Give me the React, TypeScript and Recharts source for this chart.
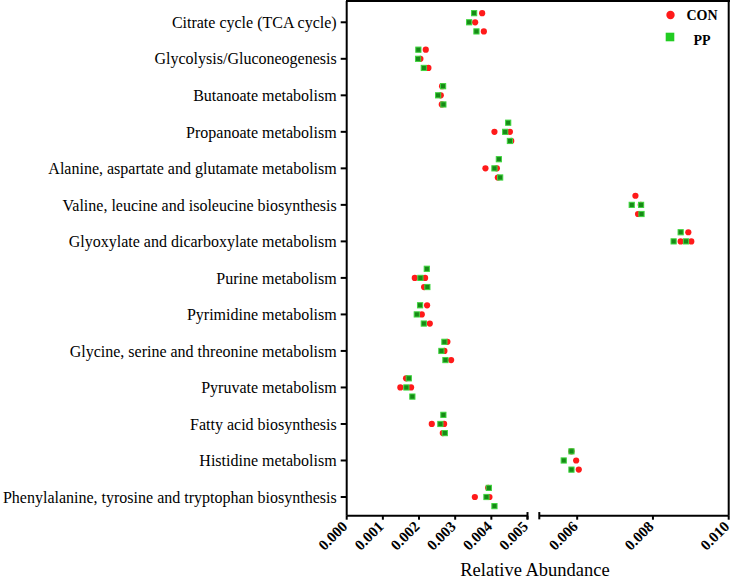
import { ScatterChart, Scatter, XAxis, YAxis, ReferenceLine, Legend } from 'recharts';

const categories = [
  'Citrate cycle (TCA cycle)',
  'Glycolysis/Gluconeogenesis',
  'Butanoate metabolism',
  'Propanoate metabolism',
  'Alanine, aspartate and glutamate metabolism',
  'Valine, leucine and isoleucine biosynthesis',
  'Glyoxylate and dicarboxylate metabolism',
  'Purine metabolism',
  'Pyrimidine metabolism',
  'Glycine, serine and threonine metabolism',
  'Pyruvate metabolism',
  'Fatty acid biosynthesis',
  'Histidine metabolism',
  'Phenylalanine, tyrosine and tryptophan biosynthesis',
];

// three replicates per pathway
const conValues = [
  [0.003746, 0.003552, 0.003793],
  [0.002187, 0.002038, 0.002259],
  [0.002638, 0.002602, 0.00263],
  [0.004086, 0.004513, 0.00455],
  [0.003837, 0.004153, 0.00418],
  [0.007538, 0.007679, 0.007607],
  [0.008934, 0.008732, 0.009013],
  [0.001883, 0.002168, 0.00214],
  [0.002223, 0.002076, 0.002298],
  [0.002785, 0.002702, 0.002888],
  [0.001642, 0.001484, 0.00178],
  [0.002353, 0.002694, 0.002658],
  [0.00585, 0.005973, 0.006042],
  [0.003912, 0.003544, 0.003948],
];
// vertical jitter row: -1 above, 0 on, 1 below the category line
const conRows = [
  [-1, 0, 1], [-1, 0, 1], [-1, 0, 1], [0, 0, 1], [0, 0, 1], [-1, 0, 1], [-1, 0, 0],
  [0, 0, 1], [-1, 0, 1], [-1, 0, 1], [-1, 0, 0], [0, 0, 1], [-1, 0, 1], [-1, 0, 0],
];

const ppValues = [
  [0.003524, 0.003386, 0.003588],
  [0.001982, 0.001974, 0.002132],
  [0.002666, 0.002528, 0.002674],
  [0.004466, 0.004383, 0.004513],
  [0.004208, 0.004086, 0.004244],
  [0.00744, 0.007687, 0.007698],
  [0.008732, 0.008546, 0.008873],
  [0.002215, 0.002038, 0.002231],
  [0.002029, 0.001938, 0.002132],
  [0.002702, 0.002619, 0.00273],
  [0.001717, 0.00165, 0.001816],
  [0.002674, 0.002591, 0.002713],
  [0.005849, 0.005645, 0.005849],
  [0.003931, 0.003865, 0.004086],
];
const ppRows = [
  [-1, 0, 1], [-1, 0, 1], [-1, 0, 1], [-1, 0, 1], [-1, 0, 1], [0, 0, 1], [-1, 0, 0],
  [-1, 0, 1], [-1, 0, 1], [-1, 0, 1], [-1, 0, 1], [-1, 0, 1], [-1, 0, 1], [-1, 0, 1],
];

const leftTicks = [0, 0.001, 0.002, 0.003, 0.004, 0.005];
const rightTicks = [0.006, 0.008, 0.01];
const breakAt = 0.005;

const FONT = '"Liberation Serif", "Times New Roman", serif';
const RED = '#ff1a1a';
const GREEN = '#178a17';
const ROW_STEP = 0.25;
const yDomain: [number, number] = [-0.583, 13.512];
const yTicks = categories.map((_, i) => i);

function toPoints(values: number[][], rows: number[][]) {
  return values.flatMap((vals, i) =>
    vals.map((v, j) => ({ x: v, y: i + rows[i][j] * ROW_STEP, name: categories[i] }))
  );
}

const conPoints = toPoints(conValues, conRows);
const ppPoints = toPoints(ppValues, ppRows);

const ConDot = (props: any) => <circle cx={props.cx} cy={props.cy} r={3.1} fill={RED} />;
const PpDot = (props: any) => (
  <rect x={props.cx - 2.6} y={props.cy - 2.6} width={5.2} height={5.2} fill={GREEN} stroke="#3fd63f" strokeWidth={1} />
);

// rotated tick label, its end sits just under the tick
function XTick({ x, y, payload }: any) {
  const tx = x - 1;
  const ty = y + 3;
  return (
    <text
      x={tx}
      y={ty}
      transform={`rotate(-45, ${tx}, ${ty})`}
      textAnchor="end"
      dy="0.25em"
      fontFamily={FONT}
      fontWeight="bold"
      fontSize={15}
      fill="#000"
    >
      {Number(payload.value).toFixed(3)}
    </text>
  );
}

function LegendBox() {
  return (
    <svg width={70} height={46}>
      <circle cx={10.5} cy={10} r={4.2} fill={RED} />
      <text x={42} y={15} textAnchor="middle" fontFamily={FONT} fontWeight="bold" fontSize={14} fill="#000">CON</text>
      <rect x={5.7} y={27.7} width={8.6} height={8.6} fill="#22cc22" />
      <text x={42} y={40} textAnchor="middle" fontFamily={FONT} fontWeight="bold" fontSize={14} fill="#000">PP</text>
    </svg>
  );
}

const axisStroke = { stroke: '#000', strokeWidth: 2 };
const breakBar = [
  { x: breakAt, y: yDomain[1] - 0.1 },
  { x: breakAt, y: yDomain[1] + 0.1 },
];

export default function App() {
  const leftCon = conPoints.filter(p => p.x <= breakAt);
  const leftPp = ppPoints.filter(p => p.x <= breakAt);
  const rightCon = conPoints.filter(p => p.x > breakAt);
  const rightPp = ppPoints.filter(p => p.x > breakAt);

  return (
    <div style={{ position: 'absolute', left: 0, top: 0, width: 734, height: 578, background: '#fff' }}>
      <div style={{ position: 'absolute', left: 0, top: 0 }}>
        <ScatterChart width={540} height={578} margin={{ top: 1, right: 12.5, bottom: 12.3, left: 0 }}>
          <XAxis
            type="number"
            dataKey="x"
            domain={[0, breakAt]}
            ticks={leftTicks}
            interval={0}
            allowDataOverflow
            height={50}
            tickSize={4}
            tickMargin={2}
            tick={<XTick />}
            tickLine={axisStroke}
            axisLine={axisStroke}
          />
          <YAxis
            type="number"
            dataKey="y"
            domain={yDomain}
            reversed
            allowDataOverflow
            ticks={yTicks}
            interval={0}
            width={346.7}
            tickSize={6}
            tickMargin={4}
            tickFormatter={(i: number) => categories[i]}
            tick={{ fontFamily: FONT, fontSize: 16, fill: '#000' }}
            tickLine={axisStroke}
            axisLine={axisStroke}
          />
          <ReferenceLine segment={breakBar} ifOverflow="visible" stroke="#000" strokeWidth={2} />
          <Scatter name="CON" data={leftCon} shape={ConDot} isAnimationActive={false} />
          <Scatter name="PP" data={leftPp} shape={PpDot} isAnimationActive={false} />
        </ScatterChart>
      </div>
      <div style={{ position: 'absolute', left: 530, top: 0 }}>
        <ScatterChart width={204} height={578} margin={{ top: 1, right: 5.3, bottom: 12.3, left: 9.3 }}>
          <XAxis
            type="number"
            dataKey="x"
            domain={[breakAt, 0.01]}
            ticks={rightTicks}
            interval={0}
            allowDataOverflow
            height={50}
            tickSize={4}
            tickMargin={2}
            tick={<XTick />}
            tickLine={axisStroke}
            axisLine={axisStroke}
          />
          <YAxis type="number" dataKey="y" domain={yDomain} reversed allowDataOverflow hide />
          <ReferenceLine x={0.01} stroke="#000" strokeWidth={2} />
          <ReferenceLine segment={breakBar} ifOverflow="visible" stroke="#000" strokeWidth={2} />
          <Legend
            layout="vertical"
            align="center"
            verticalAlign="middle"
            content={<LegendBox />}
            wrapperStyle={{ left: 130, top: 5, width: 70 }}
          />
          <Scatter name="CON" data={rightCon} shape={ConDot} isAnimationActive={false} />
          <Scatter name="PP" data={rightPp} shape={PpDot} isAnimationActive={false} />
        </ScatterChart>
      </div>
      {/* frame top runs across the axis break */}
      <div style={{ position: 'absolute', left: 346, top: 0, width: 383.7, height: 2, background: '#000' }} />
      <div
        style={{
          position: 'absolute',
          left: 435,
          top: 560.5,
          width: 200,
          textAlign: 'center',
          fontFamily: FONT,
          fontSize: 18.5,
          lineHeight: 1,
          color: '#000',
        }}
      >
        Relative Abundance
      </div>
    </div>
  );
}
